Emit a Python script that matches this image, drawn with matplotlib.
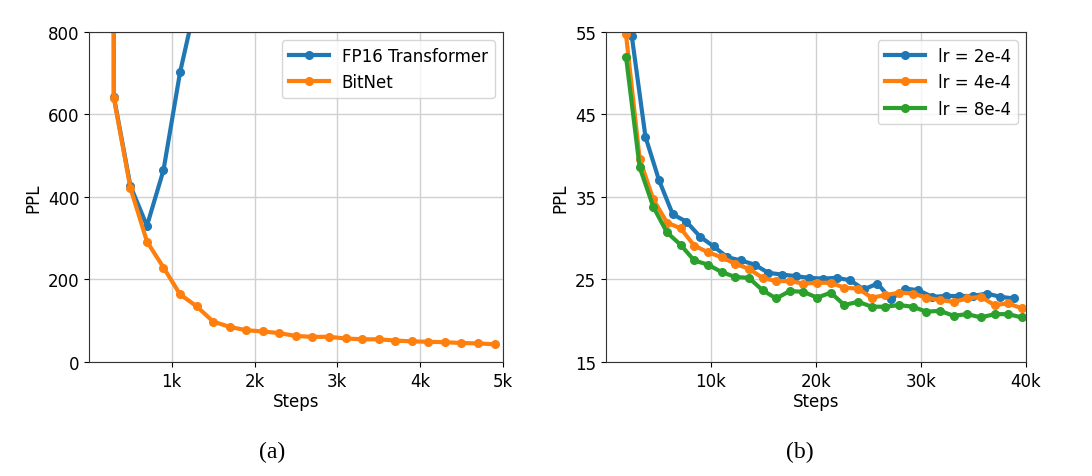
import matplotlib
matplotlib.use("Agg")
import matplotlib.pyplot as plt
from matplotlib.ticker import FuncFormatter

# (a) FP16 Transformer vs BitNet, early training
steps_fp16 = [100, 300, 500, 700, 900, 1100, 1300]
ppl_fp16 = [50000, 643, 427, 330, 465, 702, 880]

steps_bitnet = [100, 300, 500, 700, 900, 1100, 1300, 1500, 1700, 1900, 2100, 2300,
                2500, 2700, 2900, 3100, 3300, 3500, 3700, 3900, 4100, 4300, 4500,
                4700, 4900]
ppl_bitnet = [50000, 640, 422, 292, 229, 164, 135, 98, 85, 77, 74, 70,
              63, 61, 61, 57, 55, 55, 52, 50, 49, 48, 46, 45, 43]

# (b) BitNet with different learning rates
steps_lr2 = [2450, 3750, 5050, 6350, 7650, 8950, 10250, 11550, 12850, 14150,
             15450, 16750, 18050, 19350, 20650, 21950, 23250, 24550, 25850,
             27150, 28450, 29750, 31050, 32350, 33650, 34950, 36250, 37550, 38850]
ppl_lr2 = [54.5, 42.3, 37.0, 32.9, 32.0, 30.2, 29.0, 27.7, 27.3, 26.8,
           25.8, 25.6, 25.4, 25.2, 25.1, 25.2, 24.9, 23.8, 24.5,
           22.6, 23.9, 23.7, 22.9, 23.0, 23.0, 23.0, 23.3, 22.9, 22.7]

steps_lr48 = [1900, 3200, 4500, 5800, 7100, 8400, 9700, 11000, 12300, 13600,
              14900, 16200, 17500, 18800, 20100, 21400, 22700, 24000, 25300,
              26600, 27900, 29200, 30500, 31800, 33100, 34400, 35700, 37000,
              38300, 39600]
ppl_lr4 = [54.7, 39.6, 34.7, 31.9, 31.2, 29.1, 28.3, 27.7, 26.9, 26.3,
           25.2, 24.8, 24.8, 24.5, 24.6, 24.6, 24.0, 23.9, 22.8,
           23.1, 23.4, 23.3, 22.8, 22.5, 22.3, 22.7, 22.9, 21.9, 22.1, 21.5]
ppl_lr8 = [52.0, 38.6, 33.8, 30.7, 29.2, 27.3, 26.8, 25.9, 25.3, 25.2,
           23.7, 22.7, 23.6, 23.5, 22.8, 23.4, 21.9, 22.3, 21.7,
           21.7, 21.9, 21.7, 21.1, 21.2, 20.6, 20.8, 20.4, 20.8, 20.8, 20.4]

plt.rcParams["font.family"] = "DejaVu Sans"
plt.rcParams["font.size"] = 12

fig = plt.figure(figsize=(10.92, 4.77), dpi=100)
ax1 = fig.add_axes([0.0815, 0.239, 0.379, 0.692])
ax2 = fig.add_axes([0.555, 0.239, 0.3846, 0.692])

kfmt = FuncFormatter(lambda v, p: f"{int(v / 1000)}k")
line_kw = dict(marker="o", linewidth=3, markersize=5.5)

ax1.plot(steps_fp16, ppl_fp16, color="#1f77b4", label="FP16 Transformer", **line_kw)
ax1.plot(steps_bitnet, ppl_bitnet, color="#ff7f0e", label="BitNet", **line_kw)
ax1.set_xlim(0, 5000)
ax1.set_ylim(0, 800)
ax1.set_xticks([1000, 2000, 3000, 4000, 5000])
ax1.set_yticks([0, 200, 400, 600, 800])
ax1.xaxis.set_major_formatter(kfmt)
ax1.set_xlabel("Steps", labelpad=2)
ax1.set_ylabel("PPL", labelpad=4)
ax1.legend(loc="upper right", handlelength=2.4)

ax2.plot(steps_lr2, ppl_lr2, color="#1f77b4", label="lr = 2e-4", **line_kw)
ax2.plot(steps_lr48, ppl_lr4, color="#ff7f0e", label="lr = 4e-4", **line_kw)
ax2.plot(steps_lr48, ppl_lr8, color="#2ca02c", label="lr = 8e-4", **line_kw)
ax2.set_xlim(0, 40000)
ax2.set_ylim(15, 55)
ax2.set_xticks([10000, 20000, 30000, 40000])
ax2.set_yticks([15, 25, 35, 45, 55])
ax2.xaxis.set_major_formatter(kfmt)
ax2.set_xlabel("Steps", labelpad=2)
ax2.set_ylabel("PPL", labelpad=4)
ax2.legend(loc="upper right", handlelength=2.4)

for ax in (ax1, ax2):
    ax.grid(True, color="#d0d0d0", linewidth=1)
    ax.set_axisbelow(True)
    for s in ax.spines.values():
        s.set_color("#333333")

fig.text(0.249, 0.052, "(a)", family="Liberation Serif", fontsize=17,
         ha="center", va="center")
fig.text(0.7326, 0.052, "(b)", family="Liberation Serif", fontsize=17,
         ha="center", va="center")

fig.savefig("out.png", dpi=100)
